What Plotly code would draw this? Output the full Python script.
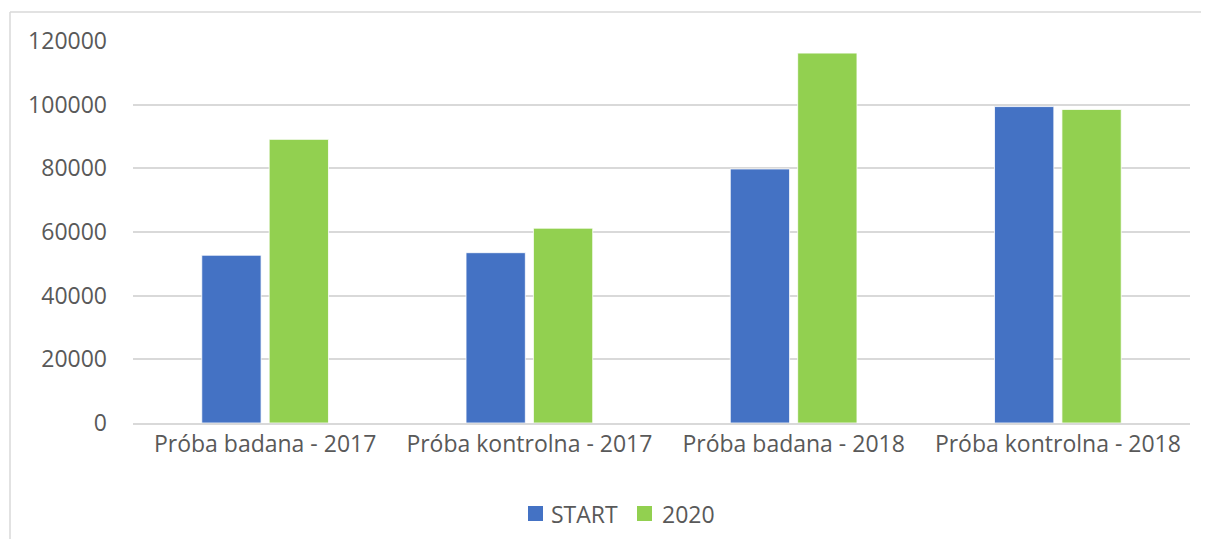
import plotly.graph_objects as go

categories = ["Próba badana - 2017", "Próba kontrolna - 2017", "Próba badana - 2018", "Próba kontrolna - 2018"]
series_names = ["START", "2020"]
start_values = [52700, 53500, 79800, 99400]
values_2020 = [89100, 61200, 116200, 98500]
y_ticks = [0, 20000, 40000, 60000, 80000, 100000, 120000]

colors = ["#4472C4", "#92D050"]

# page offset (body margin) is 8px on every side
OFF = 8
PAGE_W, PAGE_H = 1209, 547
W, H = PAGE_W - 2 * OFF, PAGE_H - 2 * OFF
# plot area in page pixels: x 133..1190, y 41..423
L, T = 133 - OFF, 41 - OFF
R = (OFF + W) - 1190
B = (OFF + H) - 423
pw, ph = W - L - R, H - T - B

font_family = "Open Sans, Noto Sans, sans-serif"
txt_color = "#595959"
fs = 23


def px_x(page_x):
    return (page_x - OFF - L) / pw


def px_y(page_y):
    return (H - B - (page_y - OFF)) / ph


fig = go.Figure()
for name, vals, col in zip(series_names, [start_values, values_2020], colors):
    fig.add_trace(go.Bar(name=name, x=categories, y=vals,
                         marker=dict(color=col, line=dict(color="#ffffff", width=0.8))))

fig_right = OFF + W
fig_bottom = OFF + H
shapes = [
    dict(type="line", xref="paper", yref="paper", x0=px_x(10), x1=px_x(fig_right), y0=px_y(12), y1=px_y(12),
         line=dict(color="#d9d9d9", width=1.5)),
    dict(type="line", xref="paper", yref="paper", x0=px_x(10), x1=px_x(10), y0=px_y(12), y1=px_y(fig_bottom),
         line=dict(color="#d9d9d9", width=1.5)),
]

# custom legend (squares + text)
legend_items = [(528, 549), (637, 660)]
annotations = []
for (sq_x, tx_x), name, col in zip(legend_items, series_names, colors):
    shapes.append(dict(type="rect", xref="paper", yref="paper",
                       x0=px_x(sq_x), x1=px_x(sq_x + 15), y0=px_y(521), y1=px_y(506),
                       fillcolor=col, line=dict(width=0)))
    annotations.append(dict(xref="paper", yref="paper", x=px_x(tx_x), y=px_y(514),
                            xanchor="left", yanchor="middle", text=name, showarrow=False,
                            font=dict(size=fs, color=txt_color, family=font_family)))

fig.update_layout(
    width=W, height=H,
    margin=dict(l=L, r=R, t=T, b=B),
    paper_bgcolor="white", plot_bgcolor="white",
    barmode="group", bargap=0.49, bargroupgap=0.12,
    font=dict(family=font_family, color=txt_color, size=fs),
    showlegend=False,
    shapes=shapes,
    annotations=annotations,
    xaxis=dict(showgrid=False, showline=True, linecolor="#d9d9d9", linewidth=1.5,
               ticks="", tickfont=dict(size=fs, color=txt_color)),
    yaxis=dict(range=[0, 120000], tickvals=y_ticks, ticktext=[str(v) for v in y_ticks],
               showgrid=True, gridcolor="#d9d9d9", gridwidth=1.5, zeroline=False,
               showline=False, ticks="", ticklabelstandoff=25,
               tickfont=dict(size=fs, color=txt_color)),
)

fig.write_html("out.html", config={"displayModeBar": False})
